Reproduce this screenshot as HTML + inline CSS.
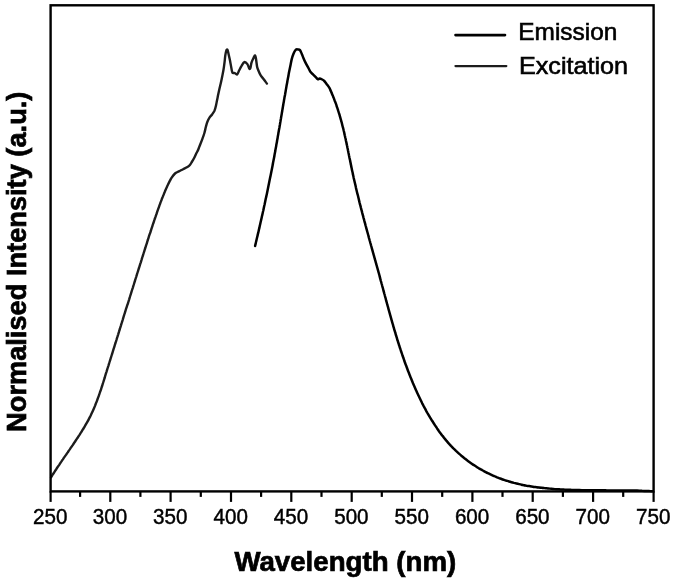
<!DOCTYPE html>
<html><head><meta charset="utf-8"><title>Emission / Excitation spectra</title>
<style>
html,body{margin:0;padding:0;background:#fff;}
body{width:675px;height:585px;overflow:hidden;}
svg{display:block;}
</style></head><body>
<svg width="675" height="585" viewBox="0 0 675 585">
<rect x="0" y="0" width="675" height="585" fill="#fff"/>
<g fill="none" stroke-linejoin="round" stroke-linecap="round">
<path d="M51.1 477.2 C51.4 476.8 52.1 475.6 52.7 474.7 C53.2 473.9 53.7 473.1 54.2 472.3 C54.8 471.4 55.3 470.6 55.9 469.8 C56.4 469.0 56.9 468.1 57.5 467.3 C58.0 466.5 58.6 465.7 59.2 464.8 C59.7 464.0 60.3 463.2 60.8 462.4 C61.4 461.5 62.0 460.7 62.5 459.9 C63.1 459.0 63.7 458.2 64.2 457.4 C64.8 456.6 65.4 455.7 66.0 454.9 C66.5 454.1 67.1 453.2 67.7 452.4 C68.3 451.5 68.8 450.7 69.4 449.9 C70.0 449.0 70.6 448.2 71.1 447.4 C71.7 446.5 72.3 445.7 72.9 444.8 C73.4 444.0 74.0 443.1 74.6 442.3 C75.2 441.4 75.7 440.6 76.3 439.7 C76.9 438.9 77.4 438.0 78.0 437.2 C78.5 436.3 79.1 435.5 79.7 434.6 C80.2 433.8 80.8 432.9 81.3 432.0 C81.8 431.2 82.4 430.3 82.9 429.4 C83.4 428.6 84.0 427.7 84.5 426.8 C85.0 426.0 85.5 425.1 86.0 424.2 C86.5 423.3 87.0 422.5 87.5 421.6 C88.0 420.7 88.5 419.8 88.9 418.9 C89.4 418.0 89.8 417.2 90.3 416.3 C90.7 415.4 91.2 414.5 91.6 413.6 C92.0 412.7 92.4 411.8 92.8 410.9 C93.2 410.0 93.6 409.1 94.0 408.2 C94.4 407.3 94.8 406.4 95.2 405.4 C95.5 404.5 95.9 403.6 96.2 402.7 C96.6 401.8 97.0 400.9 97.3 399.9 C97.6 399.0 98.0 398.1 98.3 397.2 C98.6 396.3 99.0 395.3 99.3 394.4 C99.6 393.5 99.9 392.5 100.2 391.6 C100.6 390.7 100.9 389.7 101.2 388.8 C101.5 387.9 101.8 386.9 102.1 386.0 C102.4 385.1 102.7 384.1 103.0 383.2 C103.3 382.2 103.6 381.3 103.9 380.3 C104.2 379.4 104.5 378.4 104.8 377.5 C105.0 376.5 105.3 375.6 105.6 374.6 C105.9 373.7 106.2 372.7 106.5 371.8 C106.8 370.8 107.1 369.9 107.4 368.9 C107.7 368.0 108.0 367.0 108.3 366.1 C108.6 365.1 108.9 364.1 109.2 363.2 C109.5 362.2 109.8 361.3 110.1 360.3 C110.4 359.3 110.7 358.4 111.0 357.4 C111.3 356.5 111.6 355.5 111.9 354.5 C112.2 353.6 112.5 352.6 112.8 351.6 C113.1 350.7 113.4 349.7 113.7 348.7 C114.0 347.8 114.3 346.8 114.6 345.8 C114.9 344.9 115.2 343.9 115.5 343.0 C115.8 342.0 116.1 341.0 116.4 340.1 C116.7 339.1 117.0 338.1 117.3 337.2 C117.6 336.2 117.9 335.2 118.2 334.3 C118.5 333.3 118.8 332.3 119.1 331.4 C119.4 330.4 119.7 329.4 120.0 328.5 C120.3 327.5 120.6 326.5 120.9 325.6 C121.2 324.6 121.5 323.6 121.8 322.7 C122.1 321.7 122.4 320.7 122.7 319.8 C123.0 318.8 123.3 317.9 123.6 316.9 C123.9 315.9 124.2 315.0 124.5 314.0 C124.8 313.0 125.1 312.1 125.4 311.1 C125.7 310.1 126.0 309.2 126.3 308.2 C126.6 307.3 126.9 306.3 127.2 305.3 C127.6 304.4 127.9 303.4 128.2 302.5 C128.5 301.5 128.8 300.5 129.1 299.6 C129.4 298.6 129.7 297.6 130.0 296.7 C130.3 295.7 130.6 294.8 130.9 293.8 C131.2 292.8 131.5 291.9 131.8 290.9 C132.1 290.0 132.4 289.0 132.7 288.1 C133.0 287.1 133.3 286.1 133.6 285.2 C133.9 284.2 134.2 283.3 134.5 282.3 C134.8 281.3 135.1 280.4 135.4 279.4 C135.7 278.5 136.0 277.5 136.3 276.6 C136.6 275.6 136.9 274.7 137.2 273.7 C137.5 272.7 137.8 271.8 138.1 270.8 C138.4 269.9 138.7 268.9 139.0 268.0 C139.3 267.0 139.6 266.1 139.9 265.1 C140.2 264.2 140.5 263.2 140.8 262.3 C141.1 261.3 141.4 260.3 141.7 259.4 C142.0 258.4 142.3 257.5 142.6 256.5 C142.9 255.6 143.2 254.6 143.5 253.7 C143.8 252.7 144.1 251.8 144.4 250.8 C144.7 249.9 145.0 248.9 145.3 248.0 C145.6 247.0 145.9 246.1 146.2 245.1 C146.5 244.2 146.8 243.3 147.1 242.3 C147.4 241.4 147.7 240.4 148.0 239.5 C148.3 238.5 148.6 237.6 148.9 236.6 C149.2 235.7 149.5 234.7 149.8 233.8 C150.2 232.9 150.5 231.9 150.8 231.0 C151.1 230.0 151.4 229.1 151.7 228.1 C152.0 227.2 152.3 226.3 152.6 225.3 C152.9 224.4 153.3 223.4 153.6 222.5 C153.9 221.6 154.2 220.6 154.5 219.7 C154.8 218.7 155.2 217.8 155.5 216.9 C155.8 215.9 156.1 215.0 156.5 214.0 C156.8 213.1 157.1 212.2 157.4 211.2 C157.8 210.3 158.1 209.4 158.4 208.4 C158.8 207.5 159.1 206.6 159.4 205.6 C159.8 204.7 160.1 203.8 160.4 202.8 C160.8 201.9 161.1 201.0 161.5 200.0 C161.8 199.1 162.2 198.2 162.6 197.2 C162.9 196.3 163.3 195.4 163.7 194.5 C164.1 193.5 164.4 192.6 164.8 191.7 C165.2 190.7 165.6 189.8 166.0 188.9 C166.5 188.0 166.9 187.0 167.3 186.1 C167.7 185.2 168.2 184.3 168.6 183.3 C169.1 182.4 169.6 181.5 170.0 180.6 C170.5 179.6 170.7 179.0 171.5 177.8 C172.3 176.6 173.8 174.6 175.0 173.5 C176.2 172.4 177.5 172.1 178.8 171.4 C180.2 170.7 181.7 169.9 183.1 169.2 C184.5 168.5 186.3 167.8 187.4 167.1 C188.5 166.4 189.1 165.9 189.9 165.0 C190.7 164.1 191.3 162.8 192.1 161.5 C192.8 160.2 193.7 158.9 194.4 157.5 C195.1 156.1 195.8 154.3 196.5 153.0 C197.2 151.7 197.7 151.0 198.3 149.5 C198.9 148.0 199.6 145.9 200.3 144.2 C201.0 142.5 201.6 141.0 202.3 139.1 C203.0 137.2 203.8 135.1 204.4 133.0 C205.0 130.9 205.4 128.7 205.9 126.8 C206.4 124.9 206.8 123.2 207.4 121.7 C208.0 120.2 208.7 118.8 209.5 117.6 C210.3 116.4 211.2 115.7 212.1 114.5 C212.9 113.3 213.9 111.9 214.6 110.4 C215.2 108.9 215.6 107.2 216.0 105.5 C216.4 103.8 216.6 102.3 217.0 100.5 C217.4 98.7 217.8 96.4 218.2 94.5 C218.6 92.6 219.0 90.8 219.4 89.0 C219.8 87.2 220.2 85.7 220.6 84.0 C221.0 82.3 221.2 81.4 221.7 79.0 C222.2 76.6 223.0 72.4 223.5 69.7 C224.0 67.0 224.2 65.0 224.5 62.6 C224.8 60.2 225.0 57.5 225.3 55.4 C225.6 53.3 226.1 51.2 226.4 50.3 C226.8 49.3 227.1 49.2 227.4 49.7 C227.7 50.2 228.0 51.5 228.4 53.3 C228.8 55.1 229.5 57.9 230.0 60.5 C230.5 63.1 231.1 66.7 231.5 68.7 C231.9 70.8 232.0 72.1 232.5 72.8 C233.0 73.5 233.8 72.7 234.6 73.0 C235.4 73.3 236.3 74.9 237.1 74.4 C237.9 74.0 238.4 71.8 239.2 70.3 C240.0 68.8 240.8 67.0 241.7 65.6 C242.5 64.2 243.4 62.4 244.3 62.1 C245.2 61.9 246.6 63.0 247.4 64.1 C248.2 65.2 248.9 68.1 249.4 68.7 C249.9 69.3 250.2 68.7 250.5 67.7 C250.8 66.7 251.0 64.2 251.5 62.6 C252.0 61.0 252.9 59.2 253.5 58.0 C254.1 56.8 254.7 55.1 255.1 55.4 C255.5 55.6 255.8 57.6 256.1 59.5 C256.4 61.4 256.7 64.7 257.1 66.7 C257.5 68.7 258.1 69.8 258.7 71.3 C259.3 72.8 259.8 74.0 260.7 75.4 C261.6 76.9 263.3 78.6 264.3 80.0 C265.3 81.4 266.5 83.0 266.9 83.6" stroke="#1c1c1c" stroke-width="2.4"/>
<path d="M255.1 245.9 C255.2 245.4 255.6 243.9 255.8 243.0 C256.0 242.0 256.3 241.0 256.5 240.0 C256.7 239.0 257.0 238.0 257.2 237.1 C257.4 236.1 257.7 235.1 257.9 234.1 C258.1 233.1 258.4 232.1 258.6 231.2 C258.8 230.2 259.0 229.2 259.3 228.2 C259.5 227.2 259.7 226.2 259.9 225.3 C260.2 224.3 260.4 223.3 260.6 222.3 C260.8 221.3 261.1 220.3 261.3 219.3 C261.5 218.4 261.7 217.4 261.9 216.4 C262.2 215.4 262.4 214.4 262.6 213.4 C262.8 212.4 263.0 211.5 263.3 210.5 C263.5 209.5 263.7 208.5 263.9 207.5 C264.1 206.5 264.3 205.5 264.6 204.5 C264.8 203.6 265.0 202.6 265.2 201.6 C265.4 200.6 265.6 199.6 265.8 198.6 C266.0 197.6 266.3 196.6 266.5 195.6 C266.7 194.7 266.9 193.7 267.1 192.7 C267.3 191.7 267.5 190.7 267.7 189.7 C267.9 188.7 268.1 187.7 268.3 186.7 C268.5 185.8 268.7 184.8 268.9 183.8 C269.1 182.8 269.3 181.8 269.5 180.8 C269.7 179.8 269.9 178.8 270.1 177.8 C270.3 176.8 270.5 175.8 270.7 174.9 C270.9 173.9 271.1 172.9 271.3 171.9 C271.5 170.9 271.7 169.9 271.9 168.9 C272.1 167.9 272.3 166.9 272.5 165.9 C272.7 164.9 272.9 163.9 273.0 163.0 C273.2 162.0 273.4 161.0 273.6 160.0 C273.8 159.0 274.0 158.0 274.2 157.0 C274.4 156.0 274.5 155.0 274.7 154.0 C274.9 153.0 275.1 152.0 275.3 151.0 C275.4 150.0 275.6 149.0 275.8 148.1 C276.0 147.1 276.2 146.1 276.3 145.1 C276.5 144.1 276.7 143.1 276.9 142.1 C277.0 141.1 277.2 140.1 277.4 139.1 C277.6 138.1 277.7 137.1 277.9 136.1 C278.1 135.1 278.3 134.1 278.4 133.1 C278.6 132.2 278.8 131.2 278.9 130.2 C279.1 129.2 279.3 128.2 279.5 127.2 C279.6 126.2 279.8 125.2 280.0 124.2 C280.1 123.2 280.3 122.2 280.5 121.2 C280.6 120.2 280.8 119.2 281.0 118.2 C281.1 117.2 281.3 116.2 281.5 115.2 C281.7 114.3 281.8 113.3 282.0 112.3 C282.2 111.3 282.3 110.3 282.5 109.3 C282.7 108.3 282.8 107.3 283.0 106.3 C283.2 105.3 283.3 104.3 283.5 103.3 C283.7 102.3 283.9 101.3 284.0 100.3 C284.2 99.3 284.4 98.3 284.5 97.3 C284.7 96.4 284.9 95.4 285.1 94.4 C285.2 93.4 285.4 92.4 285.6 91.4 C285.8 90.4 285.9 89.4 286.1 88.4 C286.3 87.4 286.5 86.4 286.6 85.4 C286.8 84.4 287.0 83.4 287.2 82.4 C287.4 81.4 287.5 80.4 287.7 79.4 C287.9 78.5 288.1 77.5 288.3 76.5 C288.5 75.5 288.6 74.5 288.8 73.5 C289.0 72.5 289.1 71.9 289.4 70.5 C289.7 69.1 290.2 66.7 290.6 64.8 C291.0 62.9 291.3 60.6 291.8 58.8 C292.3 56.9 292.9 55.2 293.5 53.7 C294.1 52.2 295.0 50.5 295.7 49.8 C296.4 49.1 297.1 49.3 297.8 49.4 C298.5 49.5 299.4 49.4 300.0 50.1 C300.6 50.8 301.1 52.4 301.7 53.7 C302.3 55.0 302.8 56.5 303.4 58.0 C304.0 59.5 304.7 61.0 305.5 62.6 C306.3 64.2 307.2 65.8 308.1 67.4 C309.0 69.0 309.8 70.9 310.6 72.1 C311.5 73.3 312.3 73.8 313.2 74.6 C314.1 75.4 315.0 76.4 315.8 77.2 C316.6 78.0 317.3 79.1 317.9 79.3 C318.5 79.5 318.9 78.6 319.6 78.6 C320.3 78.6 321.4 79.1 322.2 79.5 C323.0 79.9 323.5 80.2 324.3 81.0 C325.1 81.8 326.0 83.2 326.9 84.4 C327.8 85.6 328.8 86.9 329.4 87.9 C330.0 88.9 330.2 89.6 330.5 90.4 C330.9 91.2 331.3 92.1 331.6 92.9 C332.0 93.7 332.3 94.6 332.7 95.4 C333.0 96.2 333.4 97.1 333.7 97.9 C334.0 98.7 334.3 99.6 334.6 100.4 C335.0 101.3 335.3 102.1 335.6 102.9 C335.9 103.8 336.2 104.6 336.5 105.4 C336.7 106.3 337.0 107.1 337.3 107.9 C337.6 108.8 337.9 109.6 338.1 110.4 C338.4 111.3 338.7 112.1 338.9 112.9 C339.2 113.8 339.4 114.6 339.7 115.4 C339.9 116.3 340.2 117.1 340.4 117.9 C340.6 118.8 340.9 119.6 341.1 120.4 C341.3 121.3 341.6 122.1 341.8 122.9 C342.0 123.8 342.2 124.6 342.4 125.5 C342.6 126.3 342.8 127.1 343.1 128.0 C343.3 128.8 343.5 129.6 343.7 130.5 C343.9 131.3 344.1 132.1 344.3 133.0 C344.4 133.8 344.6 134.6 344.8 135.5 C345.0 136.3 345.2 137.1 345.4 138.0 C345.6 138.8 345.8 139.6 345.9 140.5 C346.1 141.3 346.3 142.1 346.5 143.0 C346.6 143.8 346.8 144.6 347.0 145.5 C347.2 146.3 347.3 147.1 347.5 148.0 C347.7 148.8 347.9 149.6 348.0 150.5 C348.2 151.3 348.4 152.2 348.5 153.0 C348.7 153.8 348.9 154.7 349.0 155.5 C349.2 156.3 349.4 157.2 349.5 158.0 C349.7 158.8 349.9 159.7 350.1 160.5 C350.2 161.3 350.4 162.2 350.6 163.0 C350.7 163.8 350.9 164.7 351.1 165.5 C351.2 166.3 351.4 167.2 351.6 168.0 C351.8 168.8 351.9 169.7 352.1 170.5 C352.3 171.3 352.5 172.2 352.7 173.0 C352.8 173.8 353.0 174.7 353.2 175.5 C353.4 176.4 353.6 177.2 353.7 178.0 C353.9 178.9 354.1 179.7 354.3 180.5 C354.5 181.4 354.7 182.2 354.9 183.0 C355.1 183.9 355.3 184.7 355.5 185.5 C355.7 186.4 355.9 187.2 356.0 188.0 C356.2 188.9 356.4 189.7 356.6 190.5 C356.8 191.4 357.0 192.2 357.2 193.0 C357.4 193.9 357.7 194.7 357.9 195.5 C358.1 196.4 358.3 197.2 358.5 198.0 C358.7 198.9 358.9 199.7 359.1 200.6 C359.3 201.4 359.5 202.2 359.7 203.1 C359.9 203.9 360.1 204.7 360.4 205.6 C360.6 206.4 360.8 207.2 361.0 208.1 C361.2 208.9 361.4 209.7 361.7 210.6 C361.9 211.4 362.1 212.2 362.3 213.1 C362.5 213.9 362.7 214.7 363.0 215.6 C363.2 216.4 363.4 217.2 363.6 218.1 C363.8 218.9 364.1 219.7 364.3 220.6 C364.5 221.4 364.7 222.2 365.0 223.1 C365.2 223.9 365.4 224.7 365.6 225.6 C365.9 226.4 366.1 227.3 366.3 228.1 C366.5 228.9 366.8 229.8 367.0 230.6 C367.2 231.4 367.4 232.3 367.7 233.1 C367.9 233.9 368.1 234.8 368.4 235.6 C368.6 236.4 368.8 237.3 369.0 238.1 C369.3 238.9 369.5 239.8 369.7 240.6 C370.0 241.4 370.2 242.3 370.4 243.1 C370.7 243.9 370.9 244.8 371.1 245.6 C371.4 246.4 371.6 247.3 371.8 248.1 C372.0 248.9 372.3 249.8 372.5 250.6 C372.7 251.5 373.0 252.3 373.2 253.1 C373.4 254.0 373.7 254.8 373.9 255.6 C374.1 256.5 374.4 257.3 374.6 258.1 C374.8 259.0 375.1 259.8 375.3 260.6 C375.5 261.5 375.8 262.3 376.0 263.1 C376.2 264.0 376.5 264.8 376.7 265.6 C376.9 266.5 377.1 267.3 377.4 268.1 C377.6 269.0 377.8 269.8 378.1 270.6 C378.3 271.5 378.5 272.3 378.8 273.1 C379.0 274.0 379.2 274.8 379.5 275.6 C379.7 276.5 379.9 277.3 380.1 278.2 C380.4 279.0 380.6 279.8 380.8 280.7 C381.0 281.5 381.3 282.3 381.5 283.2 C381.7 284.0 382.0 284.8 382.2 285.7 C382.4 286.5 382.6 287.3 382.9 288.2 C383.1 289.0 383.3 289.8 383.5 290.7 C383.8 291.5 384.0 292.3 384.2 293.2 C384.4 294.0 384.7 294.8 384.9 295.7 C385.1 296.5 385.3 297.3 385.6 298.2 C385.8 299.0 386.0 299.8 386.2 300.7 C386.5 301.5 386.7 302.4 386.9 303.2 C387.1 304.0 387.4 304.9 387.6 305.7 C387.8 306.5 388.1 307.4 388.3 308.2 C388.5 309.0 388.7 309.9 389.0 310.7 C389.2 311.5 389.4 312.4 389.7 313.2 C389.9 314.0 390.1 314.9 390.4 315.7 C390.6 316.5 390.8 317.4 391.1 318.2 C391.3 319.0 391.5 319.9 391.8 320.7 C392.0 321.5 392.2 322.4 392.5 323.2 C392.7 324.0 393.0 324.9 393.2 325.7 C393.4 326.6 393.7 327.4 393.9 328.2 C394.2 329.1 394.4 329.9 394.7 330.7 C394.9 331.6 395.2 332.4 395.4 333.2 C395.7 334.1 395.9 334.9 396.2 335.7 C396.4 336.6 396.7 337.4 396.9 338.2 C397.2 339.1 397.4 339.9 397.7 340.7 C398.0 341.6 398.2 342.4 398.5 343.2 C398.8 344.1 399.0 344.9 399.3 345.7 C399.6 346.6 399.8 347.4 400.1 348.2 C400.4 349.1 400.6 349.9 400.9 350.8 C401.2 351.6 401.5 352.4 401.8 353.3 C402.0 354.1 402.3 354.9 402.6 355.8 C402.9 356.6 403.2 357.4 403.5 358.3 C403.8 359.1 404.0 359.9 404.3 360.8 C404.6 361.6 404.9 362.4 405.2 363.3 C405.5 364.1 405.8 364.9 406.2 365.8 C406.5 366.6 406.8 367.4 407.1 368.3 C407.4 369.1 407.7 369.9 408.0 370.8 C408.3 371.6 408.7 372.4 409.0 373.3 C409.3 374.1 409.6 374.9 410.0 375.8 C410.3 376.6 410.6 377.5 411.0 378.3 C411.3 379.1 411.7 380.0 412.0 380.8 C412.3 381.6 412.7 382.5 413.0 383.3 C413.4 384.1 413.7 385.0 414.1 385.8 C414.5 386.6 414.8 387.5 415.2 388.3 C415.5 389.1 415.9 390.0 416.3 390.8 C416.7 391.6 417.0 392.5 417.4 393.3 C417.8 394.1 418.2 395.0 418.6 395.8 C419.0 396.6 419.4 397.5 419.8 398.3 C420.2 399.1 420.6 400.0 421.0 400.8 C421.4 401.7 421.8 402.5 422.2 403.3 C422.7 404.2 423.1 405.0 423.5 405.8 C424.0 406.7 424.4 407.5 424.9 408.3 C425.3 409.2 425.8 410.0 426.2 410.8 C426.7 411.7 427.2 412.5 427.6 413.3 C428.1 414.2 428.6 415.0 429.1 415.8 C429.6 416.7 430.1 417.5 430.6 418.3 C431.1 419.2 431.6 420.0 432.1 420.8 C432.7 421.7 433.2 422.5 433.7 423.3 C434.3 424.2 434.8 425.0 435.4 425.9 C435.9 426.7 436.5 427.5 437.1 428.4 C437.7 429.2 438.2 430.0 438.8 430.9 C439.4 431.7 440.0 432.5 440.7 433.4 C441.3 434.2 441.9 435.0 442.5 435.9 C443.2 436.7 443.8 437.5 444.5 438.4 C445.2 439.2 445.9 440.0 446.6 440.9 C447.3 441.7 448.0 442.5 448.7 443.4 C449.5 444.2 450.2 445.0 451.0 445.9 C451.8 446.7 452.6 447.5 453.4 448.4 C454.3 449.2 455.1 450.0 456.0 450.9 C456.9 451.7 457.8 452.6 458.7 453.4 C459.6 454.2 460.6 455.1 461.6 455.9 C462.6 456.7 463.6 457.6 464.7 458.4 C465.7 459.2 466.8 460.1 467.9 460.9 C469.0 461.7 470.4 462.7 471.4 463.4 C472.4 464.1 473.1 464.6 473.9 465.1 C474.7 465.7 475.6 466.2 476.4 466.7 C477.3 467.3 478.1 467.8 478.9 468.3 C479.8 468.8 480.6 469.3 481.4 469.7 C482.3 470.2 483.1 470.7 483.9 471.1 C484.8 471.6 485.6 472.0 486.4 472.5 C487.3 472.9 488.1 473.3 489.0 473.7 C489.8 474.1 490.6 474.5 491.5 474.9 C492.3 475.3 493.1 475.7 494.0 476.0 C494.8 476.4 495.6 476.7 496.5 477.1 C497.3 477.4 498.2 477.8 499.0 478.1 C499.8 478.4 500.7 478.7 501.5 479.0 C502.3 479.3 503.2 479.6 504.0 479.9 C504.8 480.2 505.7 480.5 506.5 480.7 C507.4 481.0 508.2 481.3 509.0 481.5 C509.9 481.8 510.7 482.0 511.5 482.2 C512.4 482.5 513.2 482.7 514.0 482.9 C514.9 483.1 515.7 483.3 516.5 483.5 C517.4 483.7 518.2 483.9 519.1 484.1 C519.9 484.3 520.7 484.5 521.6 484.7 C522.4 484.9 523.2 485.0 524.1 485.2 C524.9 485.4 525.7 485.5 526.6 485.7 C527.4 485.8 528.3 486.0 529.1 486.1 C529.9 486.2 530.8 486.4 531.6 486.5 C532.4 486.6 533.3 486.8 534.1 486.9 C534.9 487.0 535.8 487.1 536.6 487.2 C537.5 487.3 538.3 487.4 539.1 487.5 C540.0 487.6 540.8 487.7 541.6 487.8 C542.5 487.9 543.3 488.0 544.1 488.1 C545.0 488.2 545.8 488.3 546.6 488.3 C547.5 488.4 548.3 488.5 549.2 488.6 C550.0 488.6 550.8 488.7 551.7 488.8 C552.5 488.9 553.3 488.9 554.2 489.0 C555.0 489.0 555.8 489.1 556.7 489.2 C557.5 489.2 558.4 489.3 559.2 489.3 C560.0 489.4 560.9 489.4 561.7 489.5 C562.5 489.5 563.4 489.5 564.2 489.6 C565.0 489.6 565.9 489.7 566.7 489.7 C567.6 489.7 568.4 489.8 569.2 489.8 C570.1 489.8 570.9 489.9 571.7 489.9 C572.6 489.9 573.4 490.0 574.2 490.0 C575.1 490.0 575.9 490.0 576.8 490.1 C577.6 490.1 578.4 490.1 579.3 490.1 C580.1 490.1 580.9 490.1 581.8 490.2 C582.6 490.2 583.4 490.2 584.3 490.2 C585.1 490.2 585.9 490.2 586.8 490.2 C587.6 490.3 588.5 490.3 589.3 490.3 C590.1 490.3 591.0 490.3 591.8 490.3 C592.6 490.3 593.5 490.3 594.3 490.3 C595.1 490.3 596.0 490.3 596.8 490.3 C597.7 490.3 598.5 490.3 599.3 490.3 C600.2 490.3 601.0 490.3 601.8 490.3 C602.7 490.3 603.5 490.3 604.3 490.3 C605.2 490.3 606.0 490.4 606.9 490.4 C607.7 490.4 608.5 490.4 609.4 490.4 C610.2 490.4 611.0 490.4 611.9 490.4 C612.7 490.4 613.5 490.4 614.4 490.4 C615.2 490.4 616.0 490.4 616.9 490.4 C617.7 490.4 618.6 490.4 619.4 490.4 C620.2 490.4 621.1 490.4 621.9 490.4 C622.7 490.4 623.6 490.4 624.4 490.4 C625.2 490.4 626.1 490.4 626.9 490.5 C627.8 490.5 628.6 490.5 629.4 490.5 C630.3 490.5 631.1 490.5 631.9 490.5 C632.8 490.5 633.6 490.6 634.4 490.6 C635.3 490.6 636.1 490.6 637.0 490.6 C637.8 490.7 638.6 490.7 639.5 490.7 C640.3 490.7 641.1 490.7 642.0 490.8 C642.8 490.8 643.6 490.8 644.5 490.9 C645.3 490.9 646.1 490.9 647.0 491.0 C647.8 491.0 648.7 491.0 649.5 491.1 C650.3 491.1 651.6 491.2 652.0 491.2" stroke="#000" stroke-width="2.5"/>
</g>
<rect x="50.6" y="5.3" width="603.0" height="486.1" fill="none" stroke="#000" stroke-width="2.4"/>
<g stroke="#000" stroke-width="2.2">
<line x1="50.6" y1="491.4" x2="50.6" y2="501.9"/><line x1="80.1" y1="491.4" x2="80.1" y2="496.9"/><line x1="110.3" y1="491.4" x2="110.3" y2="501.9"/><line x1="140.4" y1="491.4" x2="140.4" y2="496.9"/><line x1="170.6" y1="491.4" x2="170.6" y2="501.9"/><line x1="200.8" y1="491.4" x2="200.8" y2="496.9"/><line x1="231.0" y1="491.4" x2="231.0" y2="501.9"/><line x1="261.1" y1="491.4" x2="261.1" y2="496.9"/><line x1="291.3" y1="491.4" x2="291.3" y2="501.9"/><line x1="321.5" y1="491.4" x2="321.5" y2="496.9"/><line x1="351.7" y1="491.4" x2="351.7" y2="501.9"/><line x1="381.8" y1="491.4" x2="381.8" y2="496.9"/><line x1="412.0" y1="491.4" x2="412.0" y2="501.9"/><line x1="442.2" y1="491.4" x2="442.2" y2="496.9"/><line x1="472.4" y1="491.4" x2="472.4" y2="501.9"/><line x1="502.5" y1="491.4" x2="502.5" y2="496.9"/><line x1="532.7" y1="491.4" x2="532.7" y2="501.9"/><line x1="562.9" y1="491.4" x2="562.9" y2="496.9"/><line x1="593.1" y1="491.4" x2="593.1" y2="501.9"/><line x1="623.2" y1="491.4" x2="623.2" y2="496.9"/><line x1="653.6" y1="491.4" x2="653.6" y2="501.9"/>
</g>
<g font-family="'Liberation Sans', Arial, sans-serif" font-size="21.2" fill="#000" stroke="#000" stroke-width="0.45">
<text x="33.1" y="523.8" textLength="34.4" lengthAdjust="spacingAndGlyphs">250</text><text x="92.8" y="523.8" textLength="34.4" lengthAdjust="spacingAndGlyphs">300</text><text x="153.1" y="523.8" textLength="34.4" lengthAdjust="spacingAndGlyphs">350</text><text x="213.5" y="523.8" textLength="34.4" lengthAdjust="spacingAndGlyphs">400</text><text x="273.8" y="523.8" textLength="34.4" lengthAdjust="spacingAndGlyphs">450</text><text x="334.2" y="523.8" textLength="34.4" lengthAdjust="spacingAndGlyphs">500</text><text x="394.5" y="523.8" textLength="34.4" lengthAdjust="spacingAndGlyphs">550</text><text x="454.9" y="523.8" textLength="34.4" lengthAdjust="spacingAndGlyphs">600</text><text x="515.2" y="523.8" textLength="34.4" lengthAdjust="spacingAndGlyphs">650</text><text x="575.6" y="523.8" textLength="34.4" lengthAdjust="spacingAndGlyphs">700</text><text x="636.1" y="523.8" textLength="34.4" lengthAdjust="spacingAndGlyphs">750</text>
</g>
<g stroke-linecap="round">
<line x1="455.5" y1="35.1" x2="505" y2="35.1" stroke="#000" stroke-width="2.6"/>
<line x1="455.5" y1="66.1" x2="506.3" y2="66.1" stroke="#1c1c1c" stroke-width="2.3"/>
</g>
<g font-family="'Liberation Sans', Arial, sans-serif" font-size="24" fill="#000" stroke="#000" stroke-width="0.6">
<text x="518.3" y="39.5" textLength="99" lengthAdjust="spacingAndGlyphs">Emission</text>
<text x="519" y="74" textLength="109" lengthAdjust="spacingAndGlyphs">Excitation</text>
</g>
<g font-family="'Liberation Sans', Arial, sans-serif" font-weight="bold" font-size="27.5" fill="#000" stroke="#000" stroke-width="0.7">
<text x="234.4" y="571" textLength="221.8" lengthAdjust="spacingAndGlyphs">Wavelength (nm)</text>
<text transform="translate(25.9 431.9) rotate(-90)" x="0" y="0" textLength="340.3" lengthAdjust="spacingAndGlyphs">Normalised Intensity (a.u.)</text>
</g>
</svg>
</body></html>
